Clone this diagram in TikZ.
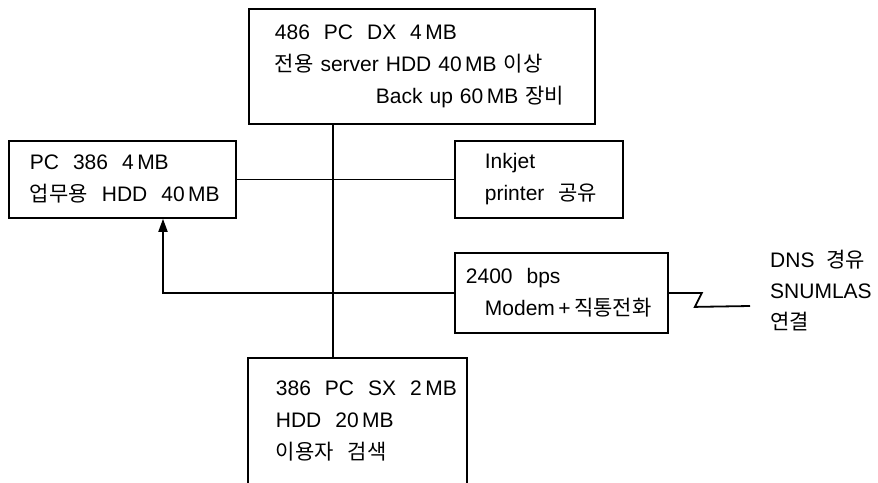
\documentclass[tikz,border=0pt]{standalone}
\usepackage{fontspec}
\setmainfont{Liberation Sans}
\newfontfamily\kr{Noto Sans CJK KR}
\usetikzlibrary{arrows.meta}

\begin{document}
\begin{tikzpicture}[
  x=1pt, y=-1pt,
  box/.style={rectangle, draw, line width=1.8pt, anchor=north west, align=left, inner sep=0pt, font=\fontsize{21}{32}\selectfont},
  openbox/.style={box, draw=none},
  plain/.style={anchor=north west, align=left, inner sep=0pt, font=\fontsize{21}{31}\selectfont},
  link/.style={line width=1.8pt},
  arrow/.style={link, -{Triangle[length=13pt, width=9pt]}}
]
\useasboundingbox (0,0) rectangle (878,482);

% Server
\node[box, minimum width=346, minimum height=115, text width=294] (dx) at (248,8)
  {486~~PC~~DX~~4\,MB\\{\kr 전용}~server~HDD~40\,MB~{\kr 이상}\\\hspace*{101pt}Back~up~60\,MB~{\kr 장비}};

% Office PC and printer
\node[box, minimum width=227, minimum height=77, text width=185] (pc) at (8,140)
  {PC~~386~~4\,MB\\{\kr 업무용}~~HDD~~40\,MB};
\node[box, minimum width=168, minimum height=77, text width=108] (ink) at (454,140)
  {Inkjet\\printer~~{\kr 공유}};

% Modem
\node[box, minimum width=213, minimum height=80, text width=191] (modem) at (454,252)
  {2400~~bps\\\hspace*{19pt}Modem\,+\,{\kr 직통전화}};
\node[plain] (dns) at (770,250) {DNS~~{\kr 경유}\\SNUMLAS\\{\kr 연결}};

% Search PC
\node[openbox, minimum width=217, minimum height=124, text width=163] (sx) at (248,358)
  {386~~PC~~SX~~2\,MB\\HDD~~20\,MB\\{\kr 이용자~~검색}};
\draw[link] (sx.south west) |- (sx.north east) -- (sx.south east);

% Lines
\coordinate (bus) at (333,0);
\coordinate (tap) at (163,0);
\coordinate (lineend) at (750,306);
\draw[link] (dx.south -| bus) -- (sx.north -| bus);
\draw[link] (pc.east) -- (ink.west);
\draw[arrow] (modem.west) -| (pc.south -| tap);
\draw[link] (modem.east) -- ++(33,0) -- ++(-7,14) -- (lineend);

\end{tikzpicture}
\end{document}
